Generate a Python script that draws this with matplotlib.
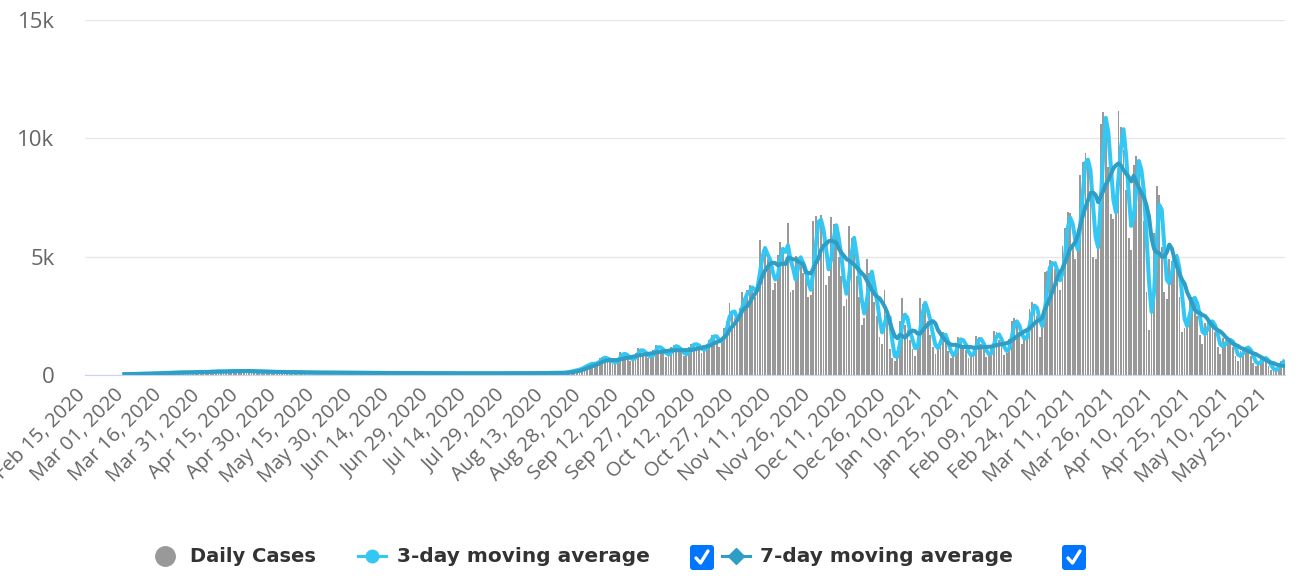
import numpy as np
import pandas as pd
import matplotlib
matplotlib.use('Agg')
import matplotlib.pyplot as plt
from matplotlib.lines import Line2D
from matplotlib.patches import FancyBboxPatch

plt.rcParams['font.family'] = ['Open Sans', 'DejaVu Sans']

# x axis: one category per day from Feb 15, 2020
first_day = '2020-02-15'
n_days = 472
data_start = 15  # first reported day is Mar 01, 2020

# daily cases from Mar 01, 2020 (one row per week)
daily_cases = [
    35, 40, 38, 45, 42, 48,
    55, 62, 58, 60, 64, 57, 66,
    80, 88, 92, 85, 95, 90, 98,
    105, 112, 108, 115, 102, 110, 118,
    125, 132, 128, 135, 122, 130, 138,
    145, 152, 148, 158, 140, 150, 160,
    175, 182, 168, 165, 160, 172, 178,
    160, 155, 148, 150, 142, 145, 150,
    135, 132, 128, 130, 125, 130, 128,
    120, 118, 112, 115, 110, 114, 116,
    108, 106, 102, 105, 100, 104, 106,
    102, 100, 98, 100, 96, 100, 101,
    96, 95, 93, 96, 92, 95, 97,
    92, 90, 88, 91, 87, 90, 92,
    86, 85, 84, 86, 82, 85, 87,
    82, 80, 78, 80, 77, 80, 82,
    79, 78, 76, 78, 75, 78, 80,
    76, 75, 73, 75, 72, 75, 77,
    73, 72, 70, 72, 69, 72, 74,
    71, 70, 68, 70, 67, 70, 72,
    72, 70, 68, 71, 67, 70, 73,
    74, 72, 70, 73, 69, 72, 75,
    77, 75, 73, 76, 72, 75, 78,
    82, 80, 78, 81, 76, 80, 84,
    92, 90, 86, 90, 84, 90, 96,
    130, 150, 170, 200, 220, 260, 320,
    380, 440, 470, 520, 430, 540, 720,
    760, 720, 630, 600, 470, 500, 730,
    960, 920, 800, 760, 600, 640, 920,
    1120, 1070, 930, 880, 700, 740, 1070,
    1250, 1200, 1040, 990, 780, 830, 1190,
    1260, 1210, 1050, 1000, 790, 840, 1200,
    1300, 1350, 1250, 1150, 950, 1100, 1300,
    1500, 1700, 1700, 1500, 1200, 1600, 2000,
    2300, 3050, 2600, 2400, 2200, 2850, 3500,
    3200, 3600, 3800, 3700, 3300, 4000, 5700,
    5300, 5100, 4900, 4600, 3600, 3900, 5080,
    5600, 5300, 4700, 6440, 3500, 3600, 5020,
    5000, 4900, 4300, 4100, 3300, 3400, 6500,
    6700, 6200, 6780, 5400, 3800, 4200, 6680,
    6400, 5900, 5000, 4200, 2900, 3200, 6280,
    5800, 5300, 4200, 3300, 2100, 2400, 4900,
    4300, 3900, 3100, 2500, 1600, 1300, 3600,
    2600, 1100, 700, 600, 1000, 2300, 3250,
    2100, 1900, 1500, 1100, 800, 1600, 3250,
    3000, 2900, 2300, 1700, 1200, 900, 1300,
    1900, 1800, 1400, 1000, 700, 800, 1360,
    1600, 1550, 1250, 1050, 700, 750, 1150,
    1650, 1600, 1300, 1100, 750, 800, 1200,
    1850, 1800, 1500, 1250, 850, 950, 1530,
    2300, 2400, 2100, 1800, 1300, 1500, 1900,
    2800, 3100, 2900, 2500, 1600, 2100, 4360,
    4400, 4870, 4800, 4500, 3900, 3600, 5430,
    6200, 6900, 6850, 5400, 4900, 5600, 8460,
    9000, 9400, 8900, 7600, 5000, 4900, 6300,
    10600, 11100, 10900, 8800, 6800, 6600, 7220,
    11150, 10500, 9500, 7800, 5800, 5300, 8890,
    9240, 9000, 7800, 6500, 3500, 1900, 2600,
    6000, 7970, 7600, 5400, 3500, 3200, 4900,
    4800, 5100, 5100, 3300, 1800, 2000, 2400,
    3200, 3300, 3300, 2500, 1700, 1300, 2200,
    2300, 2200, 2300, 1800, 1200, 900, 1550,
    1400, 1500, 1550, 1200, 800, 600, 1000,
    1100, 1200, 1200, 800, 500, 400, 540,
    700, 750, 700, 400, 200, 200, 200,
    500, 600, 600,
]

y_ticks = [0, 5000, 10000, 15000]
y_labels = ['0', '5k', '10k', '15k']
series_names = ['Daily Cases', '3-day moving average', '7-day moving average']

bar_color = '#999999'
c3 = '#35c7f3'
c7 = '#2e9ec6'

cases = pd.Series(daily_cases, dtype=float)
avg3 = cases.rolling(3, min_periods=1).mean()
avg7 = cases.rolling(7, min_periods=1).mean()
x = np.arange(data_start, data_start + len(cases))

fig = plt.figure(figsize=(13, 5.85), dpi=100)
ax = fig.add_axes([85 / 1300, 210 / 585, 1200 / 1300, 355 / 585])

ax.bar(x, cases, width=0.72, color=bar_color, zorder=2)
ax.plot(x, avg3, color=c3, lw=2.9, zorder=3, solid_joinstyle='round')
ax.plot(x, avg7, color=c7, lw=2.9, zorder=4, solid_joinstyle='round')

ax.set_xlim(-0.5, n_days - 0.5)
ax.set_ylim(0, 15000)
ax.set_yticks(y_ticks, y_labels)
ax.grid(axis='y', color='#e6e6e6', lw=0.9, zorder=0)
ax.set_axisbelow(True)
for s in ['top', 'right', 'left']:
    ax.spines[s].set_visible(False)
ax.spines['bottom'].set_color('#ccd6eb')
ax.spines['bottom'].set_zorder(5)

dates = pd.date_range(first_day, periods=n_days)
tick_days = np.arange(0, n_days, 15)
ax.set_xticks(tick_days, dates[tick_days].strftime('%b %d, %Y'))
for lab in ax.get_xticklabels():
    lab.set_rotation(45)
    lab.set_ha('right')
    lab.set_va('baseline')
    lab.set_rotation_mode('anchor')
ax.tick_params(axis='x', length=0, pad=15, labelsize=14.5, labelcolor='#666666')
ax.tick_params(axis='y', length=0, pad=22, labelsize=16, labelcolor='#666666')

# legend drawn in pixel coordinates
lax = fig.add_axes([0, 0, 1, 1])
lax.set_xlim(0, 1300)
lax.set_ylim(585, 0)
lax.axis('off')
ly = 556
lax.add_line(Line2D([165], [ly], marker='o', ms=14, color=bar_color, lw=0))
lax.text(190, ly, series_names[0], fontsize=14, fontweight='bold', color='#333333',
         va='center', ha='left', family='DejaVu Sans')
lax.add_line(Line2D([358, 386], [ly, ly], color=c3, lw=2.2))
lax.add_line(Line2D([372], [ly], marker='o', ms=9, color=c3, lw=0))
lax.text(397, ly, series_names[1], fontsize=14.5, fontweight='bold', color='#333333',
         va='center', ha='left', family='DejaVu Sans')
lax.add_line(Line2D([722, 750], [ly, ly], color=c7, lw=2.2))
lax.add_line(Line2D([736], [ly], marker='D', ms=8, color=c7, lw=0))
lax.text(760, ly, series_names[2], fontsize=14.5, fontweight='bold', color='#333333',
         va='center', ha='left', family='DejaVu Sans')

for bx in [690, 1062]:
    lax.add_patch(FancyBboxPatch((bx, 545), 24, 25, boxstyle='round,pad=0,rounding_size=3',
                                 fc='#0075ff', ec='none'))
    lax.add_line(Line2D([bx + 6, bx + 10.5, bx + 18], [558, 563, 551], color='white', lw=2.4,
                        solid_capstyle='round', solid_joinstyle='round'))

fig.savefig('out.png', dpi=100)
